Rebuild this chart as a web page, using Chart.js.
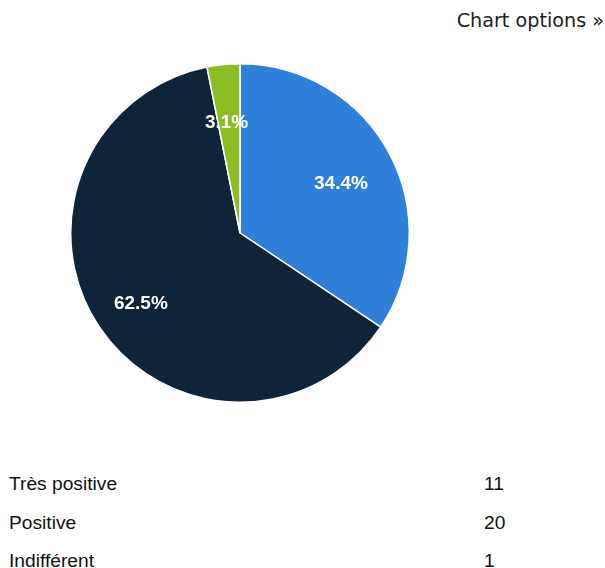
<!DOCTYPE html>
<html>
<head>
<meta charset="utf-8">
<script src="https://cdn.jsdelivr.net/npm/chart.js@4"></script>
<style>
  html, body { margin: 0; padding: 0; background: #fff; width: 605px; height: 568px; overflow: hidden; position: relative; }
  #opts { position: absolute; top: 9px; right: 1px; font-family: "DejaVu Sans", sans-serif; font-size: 19.2px; color: #222; white-space: nowrap; }
  #wrap { position: absolute; left: 0; top: 63px; width: 480px; height: 340px; }
  #tbl { position: absolute; left: 0; top: 465px; width: 605px; font-family: "Liberation Sans", Arial, sans-serif; font-size: 19.2px; color: #111; }
  .row { position: relative; height: 38.5px; line-height: 38.5px; white-space: nowrap; }
  .lab { position: absolute; left: 9px; }
  .val { position: absolute; left: 484px; }
</style>
</head>
<body>
<div id="opts">Chart options »</div>
<div id="wrap"><canvas id="c"></canvas></div>
<div id="tbl"></div>
<script>
const categories = ["Très positive", "Positive", "Indifférent"];
const values = [11, 20, 1];
const colors = ["#2f80da", "#0f2339", "#8dbd24"];

const tbl = document.getElementById('tbl');
categories.forEach((c, i) => {
  const r = document.createElement('div');
  r.className = 'row';
  const a = document.createElement('span'); a.className = 'lab'; a.textContent = c;
  const b = document.createElement('span'); b.className = 'val'; b.textContent = values[i];
  r.appendChild(a); r.appendChild(b);
  tbl.appendChild(r);
});

const total = values.reduce((s, v) => s + v, 0);

const pctLabels = {
  id: 'pctLabels',
  afterDatasetsDraw(chart) {
    const ctx = chart.ctx;
    const meta = chart.getDatasetMeta(0);
    ctx.save();
    ctx.font = 'bold 19px "Liberation Sans", Arial, sans-serif';
    ctx.fillStyle = '#ffffff';
    ctx.textAlign = 'center';
    ctx.textBaseline = 'middle';
    meta.data.forEach((arc, i) => {
      const p = arc.getProps(['x', 'y', 'startAngle', 'endAngle', 'outerRadius'], true);
      const mid = (p.startAngle + p.endAngle) / 2;
      const r = p.outerRadius * 0.69;
      const x = p.x + Math.cos(mid) * r - 2;
      const y = p.y + Math.sin(mid) * r + 6;
      const txt = (values[i] / total * 100).toFixed(1) + '%';
      ctx.fillText(txt, x, y);
    });
    ctx.restore();
  }
};

new Chart(document.getElementById('c'), {
  type: 'pie',
  data: {
    labels: categories,
    datasets: [{
      data: values,
      backgroundColor: colors,
      borderColor: '#ffffff',
      borderWidth: 1.5,
      hoverOffset: 0
    }]
  },
  options: {
    responsive: true,
    maintainAspectRatio: false,
    animation: false,
    layout: { padding: 0 },
    plugins: { legend: { display: false }, tooltip: { enabled: false } }
  },
  plugins: [pctLabels]
});
</script>
</body>
</html>
